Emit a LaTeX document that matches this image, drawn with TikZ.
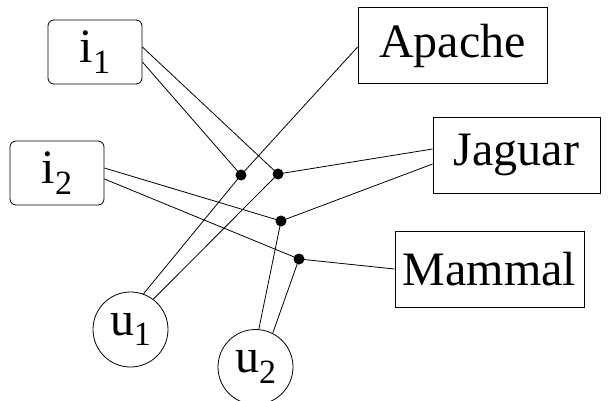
\documentclass[tikz,border=0pt]{standalone}
\usepackage{fontspec}
\setmainfont{Liberation Serif}
\begin{document}
\begin{tikzpicture}[x=1pt,y=1pt,
  every node/.style={inner sep=0pt, font=\fontsize{48}{56}\selectfont},
  item/.style={draw, rounded corners=6pt, minimum width=94pt, minimum height=64pt, line width=0.8pt},
  tag/.style={draw, minimum height=76pt, line width=0.8pt},
  user/.style={draw, circle, minimum size=75pt, line width=0.8pt},
  junction/.style={circle, fill=black, minimum size=11pt},
  link/.style={line width=0.8pt}]
\useasboundingbox (0,0) rectangle (614,400);
\newcommand{\sub}[1]{\raisebox{-0.22em}{\fontsize{34}{34}\selectfont #1}}

% items, tags and users
\node[item] (i1) at (95,348) {i\sub{1}};
\node[item] (i2) at (57,227) {i\sub{2}};
\node[tag, minimum width=189pt] (apache) at (452.5,354.5) {Apache};
\node[tag, minimum width=167pt] (jaguar) at (516.5,245) {Jaguar};
\node[tag, minimum width=189pt] (mammal) at (489.5,131) {Mammal};
\node[user] (u1) at (130.5,70.5) {u\sub{1}};
\node[user] (u2) at (255.5,33) {u\sub{2}};

% junction points of the hyperedges
\node[junction] (d1) at (241,225) {};
\node[junction] (d2) at (278,226) {};
\node[junction] (d3) at (281,179) {};
\node[junction] (d4) at (299,141) {};

% hyperedge (u1, i1, Apache)
\draw[link] ([yshift=-10pt]i1.east) -- (d1.center);
\draw[link] ([yshift=-1.5pt]apache.west) -- (d1.center);
\draw[link] (d1.center) -- (u1.70);
% hyperedge (u1, i1, Jaguar)
\draw[link] ([yshift=5pt]i1.east) -- (d2.center);
\draw[link] ([yshift=6pt]jaguar.west) -- (d2.center);
\draw[link] (d2.center) -- (u1.53);
% hyperedge (u2, i2, Jaguar)
\draw[link] ([yshift=5pt]i2.east) -- (d3.center);
\draw[link] ([yshift=-9pt]jaguar.west) -- (d3.center);
\draw[link] (d3.center) -- (u2.85);
% hyperedge (u2, i2, Mammal)
\draw[link] ([yshift=-6pt]i2.east) -- (d4.center);
\draw[link] (mammal.west) -- (d4.center);
\draw[link] (d4.center) -- (u2.63);
\end{tikzpicture}
\end{document}
